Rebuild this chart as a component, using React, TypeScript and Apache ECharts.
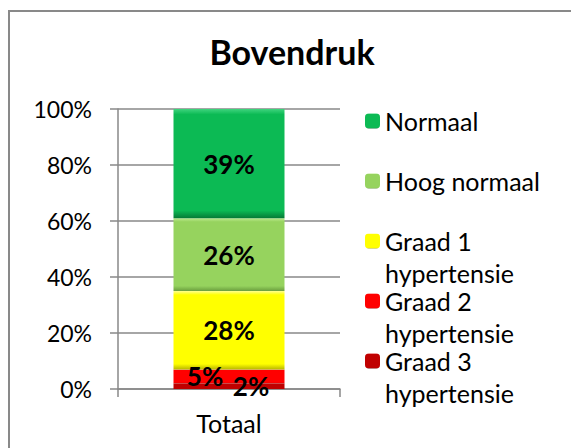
import React, { useEffect, useRef } from "react";
import * as echarts from "echarts";

const categories = ["Totaal"];
const seriesNames = [
  "Graad 3 hypertensie",
  "Graad 2 hypertensie",
  "Graad 1 hypertensie",
  "Hoog normaal",
  "Normaal",
];
const graad3 = [2];
const graad2 = [5];
const graad1 = [28];
const hoogNormaal = [26];
const normaal = [39];
const yTicks = [0, 20, 40, 60, 80, 100];
const legendOrder = ["Normaal", "Hoog normaal", "Graad 1 hypertensie", "Graad 2 hypertensie", "Graad 3 hypertensie"];

const FONT = "Lato";

function bevel(light: string, base: string, dark: string) {
  return new echarts.graphic.LinearGradient(0, 0, 0, 1, [
    { offset: 0, color: light },
    { offset: 0.05, color: base },
    { offset: 0.93, color: base },
    { offset: 1, color: dark },
  ]);
}

export default function App() {
  const ref = useRef<HTMLDivElement>(null);
  useEffect(() => {
    if (!ref.current) return;
    const chart = echarts.init(ref.current, undefined, { renderer: "svg" });
    const values = [graad3, graad2, graad1, hoogNormaal, normaal];
    const colors = [
      bevel("#e03a3a", "#c00000", "#7a0000"),
      bevel("#ff6060", "#ff0000", "#b00000"),
      bevel("#ffff90", "#ffff00", "#b8b800"),
      bevel("#bdeb90", "#96d35e", "#6a9e3e"),
      bevel("#40d47e", "#0cba54", "#067a36"),
    ];
    const labelOffsets = [[22, 0], [-24, 0], [0, 0], [0, 0], [0, 0]];
    const option: any = {
      animation: false,
      title: {
        text: "Bovendruk",
        left: 292,
        top: 34,
        padding: 0,
        textAlign: "center",
        textStyle: { fontFamily: FONT, fontWeight: "bold", fontSize: 34, color: "#000" },
      },
      graphic: [
        {
          type: "rect",
          shape: { x: 9, y: 11, width: 800, height: 800 },
          style: { fill: "none", stroke: "#898989", lineWidth: 2 },
          silent: true,
        },
      ],
      legend: {
        orient: "vertical",
        left: 365,
        top: 73,
        padding: 0,
        itemGap: -36,
        itemWidth: 15,
        itemHeight: 15,
        data: legendOrder,
        formatter: (name: string) => {
          const parts = name.split(" ");
          if (name.indexOf("hypertensie") >= 0) {
            return " \n" + parts.slice(0, 2).join(" ") + "\nhypertensie";
          }
          return " \n" + name + "\n ";
        },
        textStyle: {
          fontFamily: FONT,
          fontSize: 25,
          color: "#000",
          lineHeight: 32,
        },
      },
      grid: { left: 118, top: 109, width: 222, height: 280, containLabel: false },
      xAxis: {
        type: "category",
        data: categories,
        axisLine: { show: true, lineStyle: { color: "#888", width: 1.5 } },
        axisTick: { show: true, length: 8, lineStyle: { color: "#888", width: 1.5 } },
        axisLabel: { margin: 21, fontFamily: FONT, fontSize: 25, color: "#000" },
        splitLine: { show: false },
      },
      yAxis: {
        type: "value",
        min: yTicks[0],
        max: yTicks[yTicks.length - 1],
        interval: 20,
        axisLine: { show: true, lineStyle: { color: "#888", width: 1.5 } },
        axisTick: { show: true, length: 8, lineStyle: { color: "#888", width: 1.5 } },
        axisLabel: { margin: 26, fontFamily: FONT, fontSize: 23, color: "#000", formatter: "{value}%" },
        splitLine: { show: true, lineStyle: { color: "#888", width: 1.5 } },
      },
      series: seriesNames.map((name, i) => ({
        name,
        type: "bar",
        stack: "total",
        barWidth: 111,
        data: values[i],
        itemStyle: { color: colors[i] },
        label: {
          show: true,
          position: "inside",
          offset: labelOffsets[i],
          formatter: "{c}%",
          fontFamily: FONT,
          fontWeight: "bold",
          fontSize: 26,
          color: "#000",
        },
      })),
    };
    chart.setOption(option);
    return () => chart.dispose();
  }, []);
  return (
    <div
      ref={ref}
      style={{ position: "fixed", left: 0, top: 0, width: 571, height: 448, background: "#fff" }}
    />
  );
}
